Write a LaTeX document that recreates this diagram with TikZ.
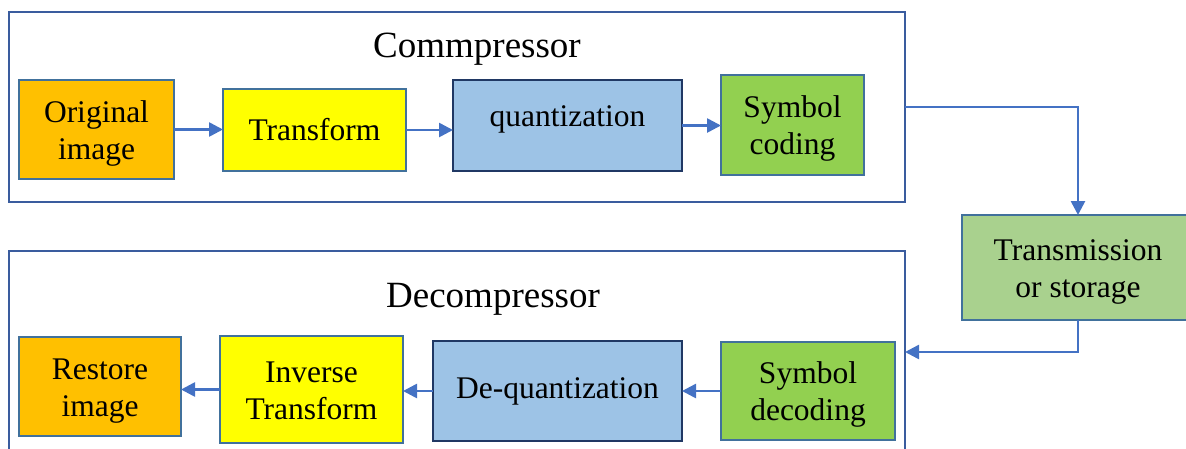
\documentclass[tikz,border=0pt]{standalone}
\usepackage{fontspec}
\setmainfont{Liberation Serif}
\usetikzlibrary{arrows.meta}
\definecolor{frameblue}{HTML}{3A5C9E}
\definecolor{edgeblue}{HTML}{41719C}
\definecolor{darknavy}{HTML}{203864}
\definecolor{arrowblue}{HTML}{4472C4}
\definecolor{fillorange}{HTML}{FFC000}
\definecolor{fillyellow}{HTML}{FFFF00}
\definecolor{fillblue}{HTML}{9DC3E6}
\definecolor{fillgreen}{HTML}{92D050}
\definecolor{filllightgreen}{HTML}{A9D18E}
% two-line block label, set a little below the block's centre
\newcommand{\twolines}[1]{\raisebox{-4pt}[\height][\depth]{\begin{tabular}{@{}c@{}}#1\end{tabular}}}
\tikzset{
  frame/.style={draw=frameblue, line width=2.2pt, inner sep=0pt, outer sep=0pt},
  block/.style={draw=edgeblue, line width=2.2pt, inner sep=0pt, outer sep=0pt,
    align=center, font=\fontsize{31.5}{37}\selectfont},
  darkblock/.style={block, draw=darknavy},
  title/.style={font=\fontsize{37}{42}\selectfont, anchor=base, inner sep=0pt},
  arr/.style={draw=arrowblue, line width=2.6pt,
    -{Triangle[length=14pt,width=14pt]}},
}
\begin{document}
\begin{tikzpicture}[x=1pt,y=-1pt]
  \useasboundingbox (0,0) rectangle (1186,448);
  \clip (0,0) rectangle (1186,448);

  % compressor stage
  \node[frame, minimum width=896pt, minimum height=190pt] (comp) at (457,107) {};
  \node[title] (comptitle) at (477,57) {Commpressor};
  \node[block, fill=fillorange, minimum width=155pt, minimum height=99pt] (orig) at (96.5,129.5) {\twolines{Original\\image}};
  \node[block, fill=fillyellow, minimum width=183pt, minimum height=82pt] (trans) at (314.5,130) {Transform};
  \node[darkblock, fill=fillblue, minimum width=229pt, minimum height=91pt] (quant) at (567.5,125.5) {\raisebox{6pt}[\height][\depth]{quantization}};
  \node[block, fill=fillgreen, minimum width=143pt, minimum height=100pt] (symc) at (792.5,125) {\twolines{Symbol\\coding}};

  % channel
  \node[block, fill=filllightgreen, minimum width=232pt, minimum height=105pt] (tx) at (1078,267.5) {\twolines{Transmission\\or storage}};

  % decompressor stage
  \node[frame, minimum width=896pt, minimum height=202pt] (decomp) at (457,352) {};
  \node[title] (decomptitle) at (493,307) {Decompressor};
  \node[block, fill=fillorange, minimum width=162pt, minimum height=99pt] (restore) at (100,386.5) {\twolines{Restore\\image}};
  \node[block, fill=fillyellow, minimum width=183pt, minimum height=107pt] (inv) at (311.5,389.5) {\twolines{Inverse\\Transform}};
  \node[darkblock, fill=fillblue, minimum width=249pt, minimum height=100pt] (dequant) at (557.5,391) {De-quantization};
  \node[block, fill=fillgreen, minimum width=174pt, minimum height=98pt] (symd) at (808,391) {\twolines{Symbol\\decoding}};

  % connectors
  \draw[arr] (orig.east) -- (orig.east -| trans.west);
  \draw[arr] (trans.east) -- (trans.east -| quant.west);
  \draw[arr] (quant.east) -- (quant.east -| symc.west);
  \draw[arr] (comp.east) -| (tx.north);
  \draw[arr] (tx.south) |- (decomp.east);
  \draw[arr] (symd.west) -- (symd.west -| dequant.east);
  \draw[arr] (dequant.west) -- (dequant.west -| inv.east);
  \draw[arr] (inv.west) -- (inv.west -| restore.east);
\end{tikzpicture}
\end{document}
